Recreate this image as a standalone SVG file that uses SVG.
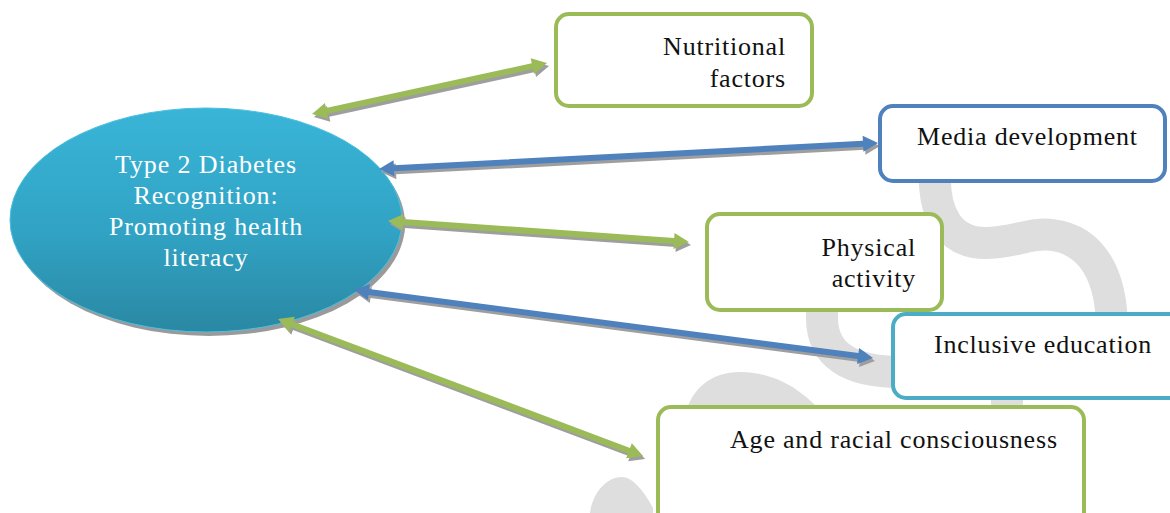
<svg xmlns="http://www.w3.org/2000/svg" width="1170" height="513" viewBox="0 0 1170 513">
<defs>
<linearGradient id="eg" x1="0" y1="0" x2="0" y2="1">
<stop offset="0" stop-color="#39b5d8"/>
<stop offset="0.55" stop-color="#31a3c4"/>
<stop offset="1" stop-color="#2a88a3"/>
</linearGradient>
<style>
.wm{fill:none;stroke:#dedede;stroke-width:32}
.wmf{fill:#dedede}
.sh{fill:#9e9e9e}
.ag{fill:#9bbb59}
.ab{fill:#4f81bd}
.box{fill:#ffffff;stroke-width:4}
.g{stroke:#9bbb59}
.b{stroke:#4f81bd}
.t{stroke:#4bacc6}
.lbl{font-family:"Liberation Serif","DejaVu Serif",serif;font-size:26px;letter-spacing:0.8px;fill:#111111}
.el{font-family:"Liberation Serif","DejaVu Serif",serif;font-size:26px;letter-spacing:0.9px;fill:#ffffff}
</style>
</defs>
<rect width="1170" height="513" fill="#ffffff"/>
<g id="watermark">
<path class="wm" d="M 935,170 C 933,215 950,243 985,243 C 1015,243 1030,232 1052,235 C 1092,240 1112,275 1112,330"/>
<path class="wm" d="M 822,300 L 822,318 C 822,355 850,372 900,372"/>
<path class="wm" d="M 1007,385 L 1007,420"/>
<path class="wmf" d="M 683,425 C 688,388 712,372 740,372 C 775,372 805,390 828,420 Z"/>
<path class="wmf" d="M 590,513 C 592,495 605,477 622,477 C 634,477 646,495 653,508 L 653,513 Z"/>
</g>
<g id="center">
<ellipse cx="209" cy="224" rx="196" ry="112" fill="#9a9a9a"/>
<ellipse cx="206" cy="220" rx="196" ry="112" fill="url(#eg)" stroke="#4cc0df" stroke-width="1"/>
<text class="el" text-anchor="middle" x="206" y="173">Type 2 Diabetes</text>
<text class="el" text-anchor="middle" x="206" y="204">Recognition:</text>
<text class="el" text-anchor="middle" x="206" y="235">Promoting health</text>
<text class="el" text-anchor="middle" x="206" y="266">literacy</text>
</g>
<g id="connectors">
<g transform="translate(314 117) rotate(-12.24)"><polygon class="sh" points="0,0 15,-8 15,-3 225.5,-3 225.5,-8 240.5,0 225.5,8 225.5,3 15,3 15,8"/></g>
<g transform="translate(312 114) rotate(-12.24)"><polygon class="ag" points="0,0 15,-8 15,-3 225.5,-3 225.5,-8 240.5,0 225.5,8 225.5,3 15,3 15,8"/></g>
<g transform="translate(381 172) rotate(-2.98)"><polygon class="sh" points="0,0 15,-8 15,-3 484.7,-3 484.7,-8 499.7,0 484.7,8 484.7,3 15,3 15,8"/></g>
<g transform="translate(379 169) rotate(-2.98)"><polygon class="ab" points="0,0 15,-8 15,-3 484.7,-3 484.7,-8 499.7,0 484.7,8 484.7,3 15,3 15,8"/></g>
<g transform="translate(390 224) rotate(3.99)"><polygon class="sh" points="0,0 15,-8 15,-3 286.7,-3 286.7,-8 301.7,0 286.7,8 286.7,3 15,3 15,8"/></g>
<g transform="translate(388 221) rotate(3.99)"><polygon class="ag" points="0,0 15,-8 15,-3 286.7,-3 286.7,-8 301.7,0 286.7,8 286.7,3 15,3 15,8"/></g>
<g transform="translate(356 293) rotate(7.46)"><polygon class="sh" points="0,0 15,-8 15,-3 508.4,-3 508.4,-8 523.4,0 508.4,8 508.4,3 15,3 15,8"/></g>
<g transform="translate(354 290) rotate(7.46)"><polygon class="ab" points="0,0 15,-8 15,-3 508.4,-3 508.4,-8 523.4,0 508.4,8 508.4,3 15,3 15,8"/></g>
<g transform="translate(280 322) rotate(20.57)"><polygon class="sh" points="0,0 15,-8 15,-3 374.9,-3 374.9,-8 389.9,0 374.9,8 374.9,3 15,3 15,8"/></g>
<g transform="translate(278 319) rotate(20.57)"><polygon class="ag" points="0,0 15,-8 15,-3 374.9,-3 374.9,-8 389.9,0 374.9,8 374.9,3 15,3 15,8"/></g>
</g>
<g id="nutritional">
<rect class="box g" x="556" y="14" width="256" height="92" rx="13"/>
<text class="lbl" text-anchor="end" x="786" y="55">Nutritional</text>
<text class="lbl" text-anchor="end" x="786" y="87">factors</text>
</g>
<g id="media">
<rect class="box b" x="880" y="106" width="285" height="75" rx="13"/>
<text class="lbl" x="917" y="145">Media development</text>
</g>
<g id="physical">
<rect class="box g" x="707" y="214" width="235" height="96" rx="13"/>
<text class="lbl" text-anchor="end" x="916" y="256">Physical</text>
<text class="lbl" text-anchor="end" x="916" y="287">activity</text>
</g>
<g id="inclusive">
<rect class="box t" x="893" y="314" width="290" height="84" rx="13"/>
<text class="lbl" x="934" y="353">Inclusive education</text>
</g>
<g id="age">
<rect class="box g" x="658" y="407" width="426" height="125" rx="13"/>
<text class="lbl" x="730" y="448">Age and racial consciousness</text>
</g>
</svg>
